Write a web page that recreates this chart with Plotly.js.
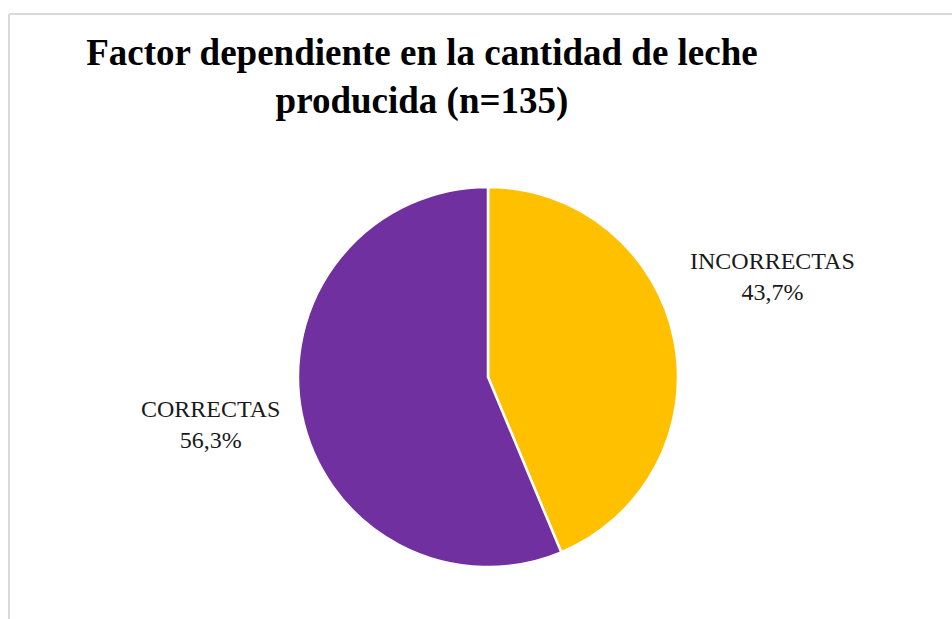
<!DOCTYPE html>
<html>
<head>
<meta charset="utf-8">
<script src="https://cdn.plot.ly/plotly-3.0.1.min.js"></script>
<style>
html,body{margin:0;padding:0;background:#fff;}
#chart{width:952px;height:619px;}
</style>
</head>
<body>
<div id="chart"></div>
<script>
const categories = ["INCORRECTAS", "CORRECTAS"];
const values = [43.7, 56.3];
const colors = ["#FFC000", "#7030A0"];
const titleText = "Factor dependiente en la cantidad de leche<br>producida (n=135)";

const total = values.reduce((a, b) => a + b, 0);
const fmt = v => (v / total * 100).toFixed(1).replace(".", ",") + "%";

// label placements (paper coords)
const labelPos = [
  {x: 772 / 952, y: 1 - 276 / 619},
  {x: 210 / 952, y: 1 - 424 / 619}
];

const trace = {
  type: "pie",
  labels: categories,
  values: values,
  sort: false,
  direction: "clockwise",
  rotation: 0,
  marker: {colors: colors, line: {color: "#ffffff", width: 2.5}},
  textinfo: "none",
  hoverinfo: "label+percent",
  showlegend: false,
  domain: {x: [298 / 952, 678 / 952], y: [1 - 567 / 619, 1 - 187 / 619]}
};

const layout = {
  width: 952,
  height: 619,
  margin: {l: 0, r: 0, t: 0, b: 0},
  paper_bgcolor: "#ffffff",
  separators: ",.",
  title: {
    text: titleText,
    font: {family: "Liberation Serif, Times New Roman, serif", size: 37, color: "#000000", weight: "bold"},
    x: 422 / 952,
    xanchor: "center",
    xref: "container",
    y: 1 - 65 / 619,
    yanchor: "top",
    yref: "container"
  },
  annotations: categories.map((c, i) => ({
    text: c + "<br>" + fmt(values[i]),
    x: labelPos[i].x,
    y: labelPos[i].y,
    xref: "paper",
    yref: "paper",
    xanchor: "center",
    yanchor: "middle",
    showarrow: false,
    font: {family: "Liberation Serif, Times New Roman, serif", size: 24, color: "#1a1a1a"}
  })),
  shapes: [
    {type: "line", xref: "paper", yref: "paper", x0: 9 / 952, x1: 1.01, y0: 1 - 14 / 619, y1: 1 - 14 / 619, line: {color: "#d9d9d9", width: 2}},
    {type: "line", xref: "paper", yref: "paper", x0: 9 / 952, x1: 9 / 952, y0: 1 - 14 / 619, y1: -0.01, line: {color: "#d9d9d9", width: 2}}
  ]
};

Plotly.newPlot("chart", [trace], layout, {displayModeBar: false, staticPlot: true});
</script>
</body>
</html>
